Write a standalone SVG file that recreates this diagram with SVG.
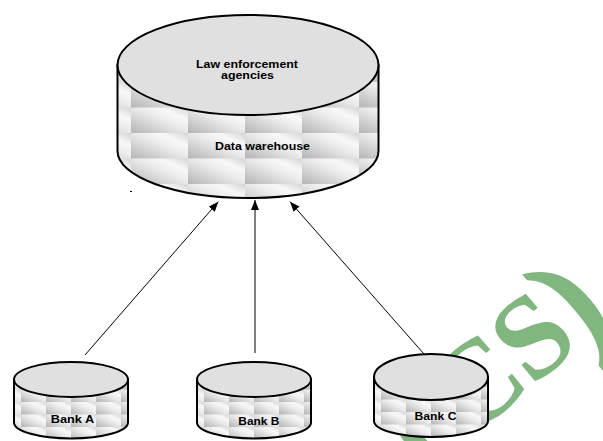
<svg xmlns="http://www.w3.org/2000/svg" width="603" height="441" viewBox="0 0 603 441">
<style>
.lbl{font-family:"Liberation Sans",Arial,sans-serif;font-weight:bold;font-size:10px;fill:#000;text-anchor:middle}
.outline{stroke:#000;stroke-width:2}
.top{fill:#e0e0e0;stroke:#000;stroke-width:2}
.conn{stroke:#000;stroke-width:1;fill:none;marker-end:url(#arr)}
.wm{font-family:"Liberation Serif","Times New Roman",serif;font-weight:bold;fill:#7fb77e;text-anchor:middle}
</style>
<defs>
<linearGradient id="gT" x1="0" y1="1" x2="1" y2="0">
<stop offset="0" stop-color="#b4b4b4"/>
<stop offset="0.55" stop-color="#ececec"/>
<stop offset="0.75" stop-color="#f8f8f8"/>
<stop offset="1" stop-color="#d4d4d4"/>
</linearGradient>
<pattern id="tileL" patternUnits="userSpaceOnUse" x="131" y="82" width="57" height="25.5">
<rect width="57" height="25.5" fill="url(#gT)"/>
</pattern>
<pattern id="tileS" patternUnits="userSpaceOnUse" x="0" y="22.5" width="25" height="12.5">
<rect width="25" height="12.5" fill="url(#gT)"/>
</pattern>
<marker id="arr" markerUnits="userSpaceOnUse" viewBox="0 0 10 8" refX="10" refY="4" markerWidth="10" markerHeight="8" orient="auto">
<path d="M0,0 L10,4 L0,8 Z" fill="#000"/>
</marker>
</defs>
<text class="wm" transform="translate(497.5,374.5) rotate(-40)"><tspan x="-98" y="36" font-size="140">(</tspan><tspan x="-22" y="32" font-size="118">C</tspan><tspan x="51" y="32" font-size="118">S</tspan><tspan x="102" y="36" font-size="140">)</tspan></text>
<g id="warehouse">
<path class="outline" fill="url(#tileL)" d="M117.5,65 V151 A130.5,47 0 0 0 378.5,151 V65 Z"/>
<ellipse class="top" cx="248" cy="65" rx="130.5" ry="50"/>
<text class="lbl" x="247" y="68.3" textLength="102" lengthAdjust="spacingAndGlyphs">Law enforcement</text>
<text class="lbl" x="247.5" y="78.5" textLength="53" lengthAdjust="spacingAndGlyphs">agencies</text>
<text class="lbl" x="262.5" y="150" textLength="95" lengthAdjust="spacingAndGlyphs">Data warehouse</text>
<rect x="130" y="191" width="2" height="1" fill="#000"/>
</g>
<g id="bankA" transform="translate(71,379.5)">
<path class="outline" fill="url(#tileS)" d="M-57,0 V43 A57,16 0 0 0 57,43 V0 Z"/>
<ellipse class="top" cx="0" cy="0" rx="57" ry="17.5"/>
<text class="lbl" x="1.5" y="43" textLength="43.5" lengthAdjust="spacingAndGlyphs">Bank A</text>
</g>
<g id="bankB" transform="translate(254,379.5)">
<path class="outline" fill="url(#tileS)" d="M-57,0 V43 A57,16 0 0 0 57,43 V0 Z"/>
<ellipse class="top" cx="0" cy="0" rx="57" ry="17.5"/>
<text class="lbl" x="4.8" y="45" textLength="41" lengthAdjust="spacingAndGlyphs">Bank B</text>
</g>
<g id="bankC" transform="translate(431,377)">
<path class="outline" fill="url(#tileS)" d="M-57,0 V44 A57,16 0 0 0 57,44 V0 Z"/>
<ellipse class="top" cx="0" cy="0" rx="57" ry="23"/>
<text class="lbl" x="4.5" y="43" textLength="42" lengthAdjust="spacingAndGlyphs">Bank C</text>
</g>
<g id="connectors">
<line class="conn" x1="85" y1="355" x2="218.3" y2="201.7"/>
<line class="conn" x1="255" y1="353" x2="255" y2="200"/>
<line class="conn" x1="424" y1="354" x2="290" y2="201.7"/>
</g>
</svg>
